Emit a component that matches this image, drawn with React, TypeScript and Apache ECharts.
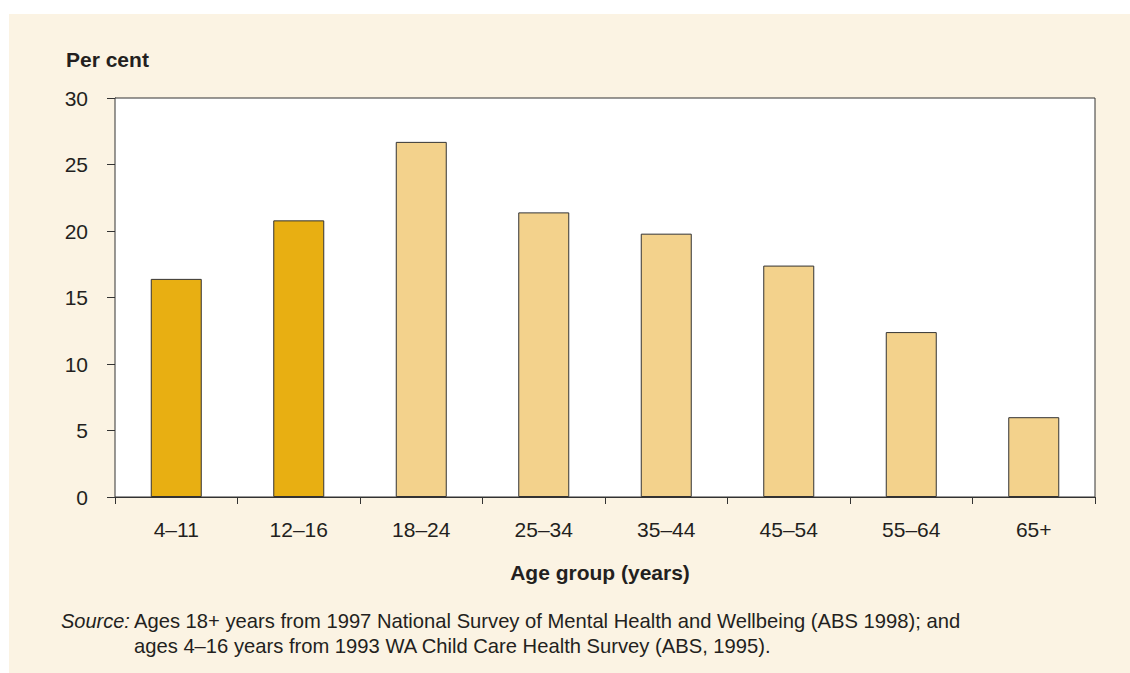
import React, { useEffect, useRef } from "react";
import * as echarts from "echarts";

const categories = ["4–11", "12–16", "18–24", "25–34", "35–44", "45–54", "55–64", "65+"];
const values = [16.4, 20.8, 26.7, 21.4, 19.8, 17.4, 12.4, 6.0];
const childGroups = ["4–11", "12–16"];
const yTicks = [0, 5, 10, 15, 20, 25, 30];

const DARK = "#E8AF12";
const LIGHT = "#F3D28C";
const CREAM = "#FBF3E3";
const INK = "#231F20";
const FONT = "'Liberation Sans', Arial, sans-serif";

export default function App() {
  const ref = useRef<HTMLDivElement>(null);
  useEffect(() => {
    document.body.style.margin = "0";
    const chart = echarts.init(ref.current!, null, { renderer: "svg" });
    chart.setOption({
      animation: false,
      backgroundColor: "#ffffff",
      textStyle: { fontFamily: FONT },
      grid: {
        left: 115,
        top: 98,
        right: 35,
        bottom: 176,
        show: true,
        backgroundColor: "#ffffff",
        borderColor: "#333333",
        borderWidth: 1,
        z: 1,
      },
      graphic: [
        {
          type: "rect",
          z: -10,
          silent: true,
          shape: { x: 9, y: 14, width: 1121, height: 659 },
          style: { fill: CREAM },
        },
        {
          type: "text",
          left: 66,
          top: 49,
          style: { text: "Per cent", font: `bold 21px ${FONT}`, fill: INK },
        },
        {
          type: "text",
          left: 61,
          top: 611,
          style: { text: "Source:", font: `italic 20px ${FONT}`, fill: INK },
        },
        {
          type: "text",
          left: 134,
          top: 611,
          style: {
            text: "Ages 18+ years from 1997 National Survey of Mental Health and Wellbeing (ABS 1998); and",
            font: `20.2px ${FONT}`,
            fill: INK,
          },
        },
        {
          type: "text",
          left: 134,
          top: 636,
          style: {
            text: "ages 4–16 years from 1993 WA Child Care Health Survey (ABS, 1995).",
            font: `20.2px ${FONT}`,
            fill: INK,
          },
        },
      ],
      xAxis: {
        type: "category",
        data: categories,
        boundaryGap: true,
        name: "Age group (years)",
        nameLocation: "middle",
        nameGap: 65,
        nameTextStyle: {
          fontFamily: FONT,
          fontSize: 21,
          fontWeight: "bold",
          color: INK,
          verticalAlign: "top",
          padding: [0, 10, 0, 0],
        },
        axisLine: { show: true, lineStyle: { color: "#333333", width: 1 } },
        axisTick: { show: true, alignWithLabel: false, length: 7, lineStyle: { color: "#333333" } },
        axisLabel: { fontFamily: FONT, fontSize: 21, color: INK, margin: 22 },
        splitLine: { show: false },
      },
      yAxis: {
        type: "value",
        min: yTicks[0],
        max: yTicks[yTicks.length - 1],
        interval: 5,
        axisLine: { show: true, lineStyle: { color: "#333333", width: 1 } },
        axisTick: { show: true, length: 8, lineStyle: { color: "#333333" } },
        axisLabel: { fontFamily: FONT, fontSize: 21, color: INK, margin: 27 },
        splitLine: { show: false },
      },
      series: [
        {
          type: "bar",
          barWidth: 51,
          data: categories.map((c, i) => ({
            value: values[i],
            itemStyle: {
              color: childGroups.includes(c) ? DARK : LIGHT,
              borderColor: "#333333",
              borderWidth: 1,
            },
          })),
          z: 3,
        },
      ],
    });
    return () => chart.dispose();
  }, []);
  return <div ref={ref} style={{ width: 1130, height: 673, position: "absolute", left: 0, top: 0 }} />;
}
